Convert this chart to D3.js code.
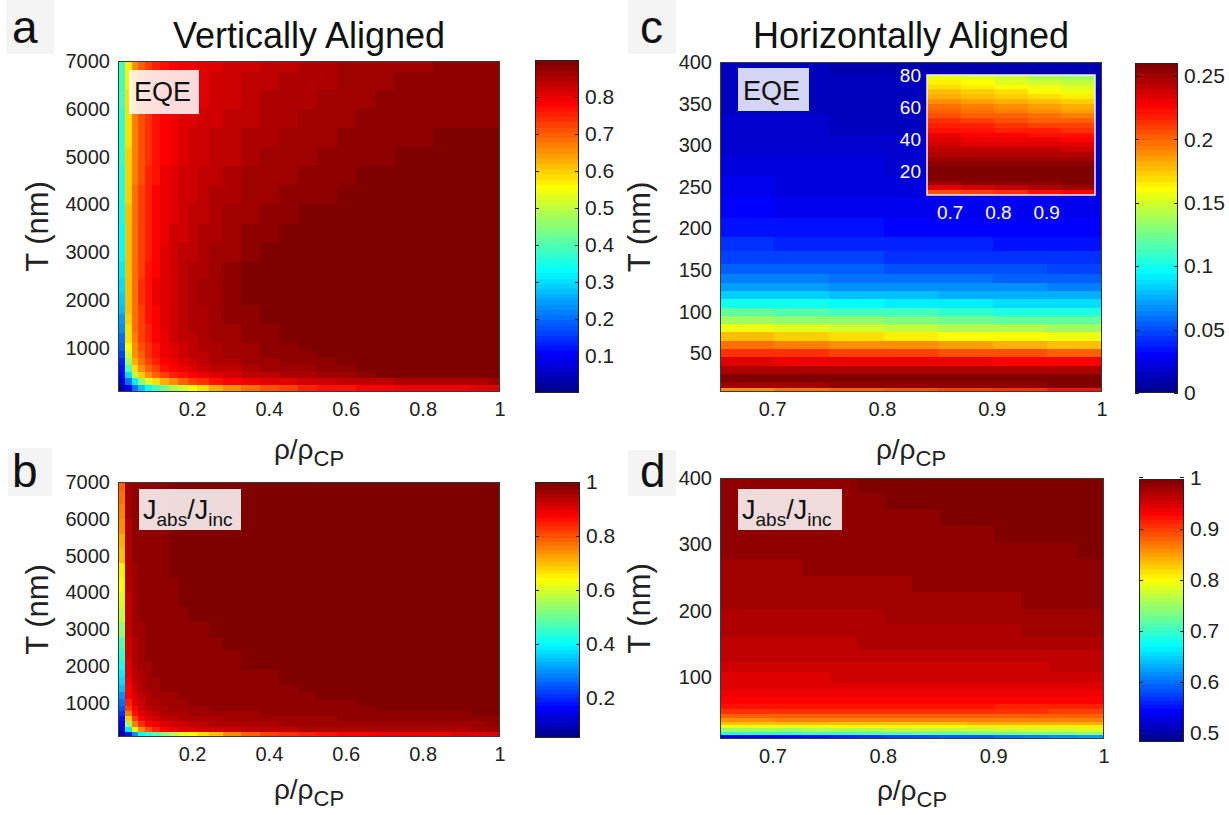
<!DOCTYPE html>
<html><head><meta charset="utf-8">
<script src="https://cdn.jsdelivr.net/npm/d3@7"></script>
<style>
body{margin:0;background:#fff}
svg{display:block}
text{font-family:"Liberation Sans",Arial,Helvetica,sans-serif;fill:#222}
</style>
</head><body>
<svg id="fig" width="1229" height="815"></svg>
<script>
// ---------------- DATA ----------------
// Panels a & b share the grid (rho/rhoCP columns, T rows in nm)
const abX = [0.015,0.0325,0.05,0.0675,0.085,0.105,0.125,0.15,0.175,0.2,0.225,0.26,0.3,0.35,0.4,0.45,0.5,0.55,0.6,0.65,0.7,0.75,0.8,0.85,0.9,0.95,0.99];
const abT = [150,290,430,570,710,850,1000,1200,1400,1600,1800,2000,2300,2600,3000,3400,3800,4200,4600,5000,5400,5800,6200,6600,6930];

// Panel a: EQE, vertically aligned (one row per T, bottom to top)
const eqeVert = [
[0.02,0.10,0.20,0.28,0.33,0.38,0.43,0.48,0.52,0.55,0.58,0.62,0.65,0.68,0.71,0.73,0.75,0.76,0.77,0.78,0.785,0.79,0.795,0.80,0.80,0.805,0.81],
[0.07,0.20,0.32,0.45,0.53,0.58,0.62,0.66,0.69,0.72,0.74,0.76,0.78,0.795,0.805,0.815,0.82,0.825,0.83,0.835,0.84,0.845,0.85,0.852,0.855,0.857,0.86],
[0.10,0.30,0.50,0.60,0.65,0.69,0.72,0.75,0.77,0.785,0.80,0.81,0.82,0.83,0.84,0.848,0.855,0.86,0.865,0.876,0.886,0.887,0.888,0.888,0.888,0.888,0.888],
[0.12,0.40,0.58,0.65,0.70,0.73,0.76,0.78,0.80,0.81,0.82,0.83,0.84,0.85,0.858,0.865,0.87,0.876,0.882,0.887,0.888,0.889,0.889,0.889,0.89,0.89,0.89],
[0.14,0.47,0.62,0.68,0.72,0.755,0.78,0.80,0.815,0.825,0.835,0.845,0.852,0.86,0.867,0.873,0.878,0.882,0.887,0.888,0.889,0.89,0.89,0.89,0.89,0.89,0.89],
[0.16,0.52,0.65,0.70,0.735,0.765,0.79,0.81,0.823,0.833,0.842,0.852,0.858,0.865,0.872,0.877,0.882,0.887,0.889,0.89,0.89,0.89,0.89,0.89,0.89,0.89,0.89],
[0.19,0.56,0.66,0.71,0.745,0.772,0.795,0.815,0.828,0.838,0.847,0.856,0.862,0.869,0.875,0.881,0.887,0.889,0.89,0.89,0.89,0.89,0.89,0.89,0.89,0.89,0.89],
[0.21,0.58,0.67,0.72,0.752,0.778,0.80,0.82,0.833,0.843,0.851,0.86,0.866,0.873,0.879,0.887,0.889,0.89,0.89,0.89,0.89,0.89,0.89,0.89,0.89,0.89,0.89],
[0.23,0.59,0.675,0.725,0.757,0.782,0.803,0.823,0.836,0.846,0.854,0.863,0.869,0.876,0.883,0.888,0.89,0.89,0.89,0.89,0.89,0.89,0.89,0.89,0.89,0.89,0.89],
[0.25,0.60,0.68,0.728,0.76,0.785,0.806,0.825,0.838,0.848,0.856,0.865,0.872,0.879,0.887,0.89,0.891,0.891,0.891,0.89,0.89,0.89,0.89,0.89,0.89,0.89,0.89],
[0.27,0.605,0.683,0.73,0.762,0.787,0.808,0.826,0.839,0.849,0.857,0.866,0.874,0.883,0.888,0.891,0.891,0.891,0.891,0.891,0.89,0.89,0.89,0.89,0.89,0.89,0.89],
[0.285,0.61,0.685,0.732,0.764,0.789,0.81,0.827,0.84,0.85,0.858,0.867,0.876,0.887,0.89,0.891,0.891,0.891,0.891,0.891,0.891,0.89,0.89,0.89,0.89,0.89,0.89],
[0.30,0.612,0.686,0.732,0.764,0.789,0.81,0.827,0.84,0.85,0.858,0.867,0.876,0.887,0.89,0.891,0.891,0.891,0.891,0.891,0.891,0.89,0.89,0.89,0.89,0.89,0.89],
[0.31,0.612,0.685,0.73,0.762,0.787,0.807,0.824,0.837,0.847,0.855,0.863,0.872,0.887,0.89,0.891,0.891,0.891,0.891,0.891,0.89,0.89,0.89,0.89,0.89,0.89,0.89],
[0.325,0.611,0.683,0.727,0.759,0.784,0.803,0.82,0.833,0.842,0.85,0.859,0.868,0.882,0.888,0.89,0.89,0.89,0.89,0.89,0.89,0.89,0.89,0.89,0.89,0.89,0.89],
[0.335,0.61,0.681,0.724,0.756,0.78,0.80,0.816,0.829,0.838,0.846,0.854,0.863,0.876,0.882,0.887,0.889,0.89,0.89,0.89,0.89,0.89,0.89,0.89,0.89,0.89,0.89],
[0.345,0.607,0.679,0.722,0.753,0.777,0.796,0.812,0.824,0.834,0.841,0.849,0.858,0.871,0.876,0.881,0.886,0.889,0.89,0.89,0.89,0.89,0.89,0.89,0.89,0.89,0.89],
[0.355,0.603,0.677,0.719,0.75,0.774,0.792,0.808,0.82,0.829,0.837,0.845,0.853,0.865,0.871,0.876,0.881,0.884,0.888,0.89,0.89,0.89,0.89,0.89,0.89,0.89,0.89],
[0.362,0.598,0.674,0.716,0.747,0.771,0.788,0.804,0.816,0.825,0.833,0.84,0.848,0.86,0.866,0.871,0.876,0.88,0.883,0.887,0.889,0.89,0.89,0.89,0.89,0.89,0.89],
[0.368,0.593,0.672,0.713,0.744,0.768,0.785,0.80,0.812,0.821,0.828,0.835,0.843,0.854,0.86,0.866,0.871,0.875,0.879,0.882,0.885,0.887,0.889,0.89,0.89,0.89,0.89],
[0.373,0.588,0.67,0.711,0.742,0.764,0.781,0.796,0.808,0.817,0.824,0.831,0.839,0.848,0.855,0.861,0.866,0.871,0.875,0.878,0.881,0.883,0.885,0.887,0.888,0.889,0.889],
[0.378,0.583,0.668,0.708,0.739,0.761,0.777,0.792,0.804,0.812,0.819,0.826,0.834,0.843,0.849,0.856,0.861,0.866,0.87,0.874,0.877,0.879,0.881,0.883,0.884,0.885,0.885],
[0.382,0.579,0.665,0.705,0.736,0.758,0.774,0.788,0.80,0.808,0.815,0.822,0.829,0.837,0.844,0.851,0.857,0.861,0.866,0.87,0.873,0.876,0.878,0.88,0.881,0.882,0.883],
[0.386,0.575,0.663,0.703,0.733,0.755,0.77,0.784,0.796,0.804,0.811,0.817,0.824,0.832,0.839,0.845,0.852,0.857,0.862,0.866,0.869,0.872,0.874,0.876,0.878,0.879,0.88],
[0.39,0.57,0.66,0.70,0.73,0.752,0.767,0.78,0.792,0.80,0.807,0.813,0.82,0.827,0.834,0.841,0.848,0.853,0.858,0.862,0.866,0.869,0.871,0.873,0.875,0.877,0.878]
];

// Panel b: Jabs/Jinc, vertically aligned (one column per rho/rhoCP, bottom to top)
const jVert = [
[0.07,0.11,0.15,0.18,0.2,0.23,0.26,0.3,0.34,0.37,0.39,0.41,0.45,0.48,0.53,0.57,0.6,0.63,0.655,0.69,0.71,0.74,0.76,0.77,0.78],
[0.17,0.38,0.55,0.68,0.76,0.81,0.84,0.87,0.88,0.89,0.9,0.905,0.915,0.925,0.93,0.935,0.94,0.945,0.948,0.95,0.952,0.954,0.956,0.957,0.958],
[0.3,0.64,0.76,0.82,0.86,0.88,0.9,0.915,0.925,0.933,0.94,0.945,0.95,0.955,0.96,0.963,0.966,0.968,0.97,0.972,0.974,0.975,0.976,0.977,0.978],
[0.4,0.74,0.83,0.87,0.9,0.915,0.925,0.935,0.943,0.95,0.955,0.958,0.962,0.966,0.97,0.973,0.975,0.977,0.978,0.979,0.98,0.981,0.981,0.982,0.982],
[0.44,0.8,0.87,0.9,0.92,0.933,0.942,0.95,0.956,0.961,0.965,0.968,0.972,0.975,0.978,0.98,0.981,0.982,0.983,0.983,0.984,0.984,0.984,0.984,0.984],
[0.48,0.84,0.89,0.915,0.933,0.945,0.953,0.96,0.965,0.969,0.972,0.975,0.978,0.98,0.982,0.983,0.984,0.984,0.984,0.984,0.984,0.984,0.984,0.984,0.984],
[0.52,0.87,0.905,0.926,0.942,0.952,0.96,0.966,0.971,0.974,0.977,0.979,0.981,0.983,0.984,0.984,0.984,0.984,0.984,0.984,0.984,0.984,0.984,0.984,0.984],
[0.56,0.89,0.915,0.935,0.948,0.957,0.964,0.97,0.974,0.977,0.979,0.981,0.983,0.984,0.984,0.984,0.984,0.984,0.986,0.99,0.99,0.99,0.99,0.99,0.99],
[0.6,0.9,0.925,0.942,0.953,0.961,0.968,0.973,0.977,0.98,0.982,0.983,0.984,0.984,0.984,0.984,0.986,0.99,0.99,0.99,0.99,0.99,0.99,0.99,0.99],
[0.63,0.91,0.932,0.947,0.957,0.965,0.971,0.976,0.979,0.982,0.983,0.984,0.984,0.984,0.984,0.986,0.99,0.99,0.99,0.99,0.99,0.99,0.99,0.99,0.99],
[0.66,0.915,0.937,0.951,0.961,0.968,0.973,0.978,0.981,0.983,0.984,0.984,0.984,0.984,0.984,0.99,0.99,0.99,0.99,0.99,0.99,0.99,0.99,0.99,0.99],
[0.7,0.92,0.942,0.955,0.964,0.971,0.976,0.98,0.982,0.984,0.984,0.984,0.984,0.984,0.99,0.99,0.99,0.99,0.99,0.99,0.99,0.99,0.99,0.99,0.99],
[0.74,0.925,0.946,0.958,0.967,0.973,0.978,0.981,0.983,0.984,0.984,0.984,0.984,0.99,0.99,0.99,0.99,0.99,0.99,0.99,0.99,0.99,0.99,0.99,0.99],
[0.78,0.93,0.95,0.961,0.969,0.975,0.979,0.982,0.984,0.984,0.984,0.986,0.99,0.99,0.99,0.99,0.99,0.99,0.99,0.99,0.99,0.99,0.99,0.99,0.99],
[0.81,0.935,0.953,0.964,0.971,0.977,0.98,0.983,0.984,0.984,0.984,0.99,0.99,0.99,0.99,0.99,0.99,0.99,0.99,0.99,0.99,0.99,0.99,0.99,0.99],
[0.83,0.94,0.956,0.966,0.973,0.978,0.981,0.984,0.984,0.986,0.99,0.99,0.99,0.99,0.99,0.99,0.99,0.99,0.99,0.99,0.99,0.99,0.99,0.99,0.99],
[0.85,0.943,0.958,0.968,0.975,0.979,0.982,0.984,0.986,0.99,0.99,0.99,0.99,0.99,0.99,0.99,0.99,0.99,0.99,0.99,0.99,0.99,0.99,0.99,0.99],
[0.865,0.945,0.96,0.97,0.976,0.98,0.983,0.986,0.99,0.99,0.99,0.99,0.99,0.99,0.99,0.99,0.99,0.99,0.99,0.99,0.99,0.99,0.99,0.99,0.99],
[0.875,0.947,0.962,0.971,0.977,0.981,0.984,0.99,0.99,0.99,0.99,0.99,0.99,0.99,0.99,0.99,0.99,0.99,0.99,0.99,0.99,0.99,0.99,0.99,0.99],
[0.88,0.949,0.964,0.972,0.978,0.982,0.986,0.99,0.99,0.99,0.99,0.99,0.99,0.99,0.99,0.99,0.99,0.99,0.99,0.99,0.99,0.99,0.99,0.99,0.99],
[0.885,0.95,0.965,0.973,0.979,0.986,0.99,0.99,0.99,0.99,0.99,0.99,0.99,0.99,0.99,0.99,0.99,0.99,0.99,0.99,0.99,0.99,0.99,0.99,0.99],
[0.89,0.952,0.966,0.974,0.98,0.986,0.99,0.99,0.99,0.99,0.99,0.99,0.99,0.99,0.99,0.99,0.99,0.99,0.99,0.99,0.99,0.99,0.99,0.99,0.99],
[0.893,0.953,0.967,0.975,0.981,0.99,0.99,0.99,0.99,0.99,0.99,0.99,0.99,0.99,0.99,0.99,0.99,0.99,0.99,0.99,0.99,0.99,0.99,0.99,0.99],
[0.896,0.954,0.968,0.976,0.983,0.99,0.99,0.99,0.99,0.99,0.99,0.99,0.99,0.99,0.99,0.99,0.99,0.99,0.99,0.99,0.99,0.99,0.99,0.99,0.99],
[0.898,0.955,0.969,0.977,0.984,0.99,0.99,0.99,0.99,0.99,0.99,0.99,0.99,0.99,0.99,0.99,0.99,0.99,0.99,0.99,0.99,0.99,0.99,0.99,0.99],
[0.9,0.956,0.97,0.978,0.986,0.99,0.99,0.99,0.99,0.99,0.99,0.99,0.99,0.99,0.99,0.99,0.99,0.99,0.99,0.99,0.99,0.99,0.99,0.99,0.99],
[0.902,0.957,0.971,0.978,0.987,0.99,0.99,0.99,0.99,0.99,0.99,0.99,0.99,0.99,0.99,0.99,0.99,0.99,0.99,0.99,0.99,0.99,0.99,0.99,0.99]
];

// Panel c: EQE, horizontally aligned (one row per T)
const cX = [0.677,0.726,0.776,0.826,0.876,0.925,0.975];
const cT = [5,12,20,30,40,50,60,70,80,90,100,110,120,130,140,150,165,180,200,225,250,275,300,325,350,375,395];
const eqeHoriz = [
[0.19,0.195,0.2,0.205,0.21,0.215,0.22],
[0.25,0.251,0.252,0.253,0.254,0.255,0.256],
[0.257,0.258,0.258,0.259,0.259,0.26,0.26],
[0.247,0.247,0.247,0.247,0.247,0.247,0.247],
[0.232,0.231,0.23,0.229,0.228,0.227,0.226],
[0.215,0.212,0.21,0.208,0.206,0.204,0.202],
[0.196,0.193,0.19,0.187,0.184,0.181,0.178],
[0.175,0.172,0.168,0.165,0.162,0.159,0.156],
[0.155,0.151,0.148,0.145,0.142,0.139,0.136],
[0.136,0.133,0.13,0.127,0.124,0.121,0.118],
[0.118,0.115,0.112,0.11,0.107,0.105,0.102],
[0.1,0.098,0.095,0.093,0.091,0.089,0.087],
[0.085,0.083,0.081,0.079,0.077,0.075,0.074],
[0.073,0.071,0.069,0.068,0.066,0.065,0.063],
[0.063,0.061,0.06,0.059,0.057,0.056,0.055],
[0.055,0.054,0.053,0.052,0.05,0.049,0.048],
[0.047,0.046,0.045,0.044,0.043,0.042,0.041],
[0.041,0.04,0.039,0.038,0.037,0.036,0.035],
[0.034,0.033,0.033,0.032,0.031,0.03,0.03],
[0.029,0.028,0.027,0.027,0.026,0.026,0.025],
[0.025,0.024,0.024,0.023,0.023,0.022,0.022],
[0.022,0.021,0.021,0.02,0.02,0.019,0.019],
[0.019,0.019,0.018,0.018,0.017,0.017,0.017],
[0.017,0.017,0.016,0.016,0.016,0.015,0.015],
[0.016,0.015,0.015,0.014,0.014,0.014,0.013],
[0.014,0.014,0.013,0.013,0.013,0.012,0.012],
[0.013,0.013,0.012,0.012,0.012,0.011,0.011]
];

// Inset of panel c: EQE for thin films (one column per rho/rhoCP)
const insX = [0.687,0.756,0.826,0.896,0.965];
const insT = [6.5,9.5,12.5,15.5,18.5,21.5,24.5,27.5,30.5,33.5,36.5,39.5,42.5,45.5,48.5,51.5,54.5,57.5,60.5,63.5,66.5,69.5,72.5,75.5,78.5];
const eqeInset = [
[0.205,0.235,0.25,0.256,0.258,0.258,0.254,0.25,0.246,0.241,0.236,0.232,0.228,0.223,0.218,0.212,0.206,0.201,0.195,0.189,0.182,0.176,0.17,0.164,0.158],
[0.21,0.239,0.252,0.257,0.258,0.258,0.254,0.25,0.246,0.241,0.235,0.231,0.226,0.221,0.216,0.209,0.203,0.197,0.191,0.185,0.178,0.172,0.165,0.159,0.153],
[0.215,0.243,0.254,0.258,0.259,0.259,0.255,0.25,0.246,0.24,0.235,0.23,0.225,0.219,0.213,0.206,0.2,0.194,0.187,0.181,0.174,0.167,0.161,0.154,0.148],
[0.22,0.246,0.255,0.259,0.26,0.259,0.255,0.25,0.245,0.24,0.234,0.228,0.223,0.217,0.21,0.203,0.196,0.19,0.183,0.176,0.169,0.162,0.156,0.149,0.142],
[0.225,0.25,0.257,0.26,0.26,0.259,0.255,0.25,0.245,0.239,0.233,0.227,0.221,0.215,0.208,0.2,0.193,0.186,0.179,0.172,0.165,0.158,0.151,0.144,0.137]
];

// Panel d: Jabs/Jinc, horizontally aligned (one row per T)
const dX = [0.664,0.689,0.714,0.739,0.764,0.789,0.814,0.838,0.863,0.888,0.913,0.938,0.963,0.988];
const dT = [9,15,20,25,30,35,40,47,55,65,75,85,100,115,130,150,170,190,215,240,265,290,315,340,365,390];
const jHoriz = [
[0.525,0.533,0.540,0.548,0.556,0.563,0.571,0.579,0.587,0.594,0.602,0.610,0.617,0.625],
[0.688,0.692,0.696,0.700,0.705,0.709,0.713,0.717,0.721,0.725,0.730,0.734,0.738,0.742],
[0.749,0.751,0.754,0.756,0.759,0.761,0.764,0.766,0.769,0.771,0.774,0.776,0.779,0.781],
[0.789,0.791,0.792,0.794,0.796,0.797,0.799,0.801,0.803,0.804,0.806,0.808,0.809,0.811],
[0.829,0.830,0.831,0.832,0.833,0.834,0.835,0.835,0.836,0.837,0.838,0.839,0.840,0.841],
[0.860,0.860,0.861,0.861,0.862,0.862,0.862,0.863,0.863,0.863,0.864,0.864,0.865,0.865],
[0.881,0.881,0.881,0.880,0.880,0.880,0.880,0.880,0.880,0.880,0.879,0.879,0.879,0.879],
[0.905,0.905,0.904,0.904,0.903,0.903,0.903,0.902,0.902,0.902,0.901,0.901,0.900,0.900],
[0.920,0.920,0.919,0.919,0.918,0.918,0.918,0.917,0.917,0.917,0.916,0.916,0.915,0.915],
[0.930,0.930,0.930,0.929,0.929,0.929,0.929,0.928,0.928,0.928,0.928,0.927,0.927,0.927],
[0.937,0.937,0.937,0.937,0.936,0.936,0.936,0.936,0.936,0.936,0.935,0.935,0.935,0.935],
[0.942,0.942,0.942,0.942,0.942,0.942,0.942,0.942,0.942,0.942,0.942,0.942,0.942,0.942],
[0.948,0.948,0.948,0.948,0.949,0.949,0.949,0.949,0.949,0.949,0.950,0.950,0.950,0.950],
[0.953,0.953,0.954,0.954,0.954,0.955,0.955,0.955,0.955,0.956,0.956,0.956,0.957,0.957],
[0.958,0.958,0.959,0.959,0.960,0.960,0.960,0.961,0.961,0.961,0.962,0.962,0.963,0.963],
[0.962,0.963,0.963,0.964,0.964,0.965,0.965,0.966,0.966,0.967,0.967,0.968,0.968,0.969],
[0.966,0.967,0.967,0.968,0.968,0.969,0.970,0.970,0.971,0.971,0.972,0.973,0.973,0.974],
[0.969,0.970,0.970,0.971,0.972,0.972,0.973,0.974,0.975,0.975,0.976,0.977,0.977,0.978],
[0.973,0.974,0.974,0.975,0.976,0.976,0.977,0.978,0.979,0.979,0.980,0.981,0.981,0.982],
[0.976,0.977,0.977,0.978,0.979,0.979,0.980,0.981,0.982,0.982,0.983,0.984,0.984,0.985],
[0.979,0.980,0.980,0.981,0.981,0.982,0.983,0.983,0.984,0.985,0.985,0.986,0.986,0.987],
[0.981,0.982,0.982,0.983,0.983,0.984,0.985,0.985,0.986,0.987,0.987,0.988,0.988,0.989],
[0.982,0.983,0.983,0.984,0.985,0.985,0.986,0.987,0.988,0.988,0.989,0.990,0.990,0.991],
[0.983,0.984,0.985,0.985,0.986,0.987,0.988,0.988,0.989,0.990,0.991,0.991,0.992,0.993],
[0.984,0.985,0.986,0.986,0.987,0.988,0.989,0.989,0.990,0.991,0.992,0.992,0.993,0.994],
[0.985,0.986,0.987,0.987,0.988,0.989,0.990,0.990,0.991,0.992,0.993,0.993,0.994,0.995]
];

// Tick labels
const abXTicks = [0.2,0.4,0.6,0.8,1];
const abYTicks = [1000,2000,3000,4000,5000,6000,7000];
const cdXTicks = [0.7,0.8,0.9,1];
const cYTicks = [50,100,150,200,250,300,350,400];
const dYTicks = [100,200,300,400];
const insXTicks = [0.7,0.8,0.9];
const insYTicks = [20,40,60,80];
const cbTicksA = [0.1,0.2,0.3,0.4,0.5,0.6,0.7,0.8];
const cbTicksB = [0.2,0.4,0.6,0.8,1];
const cbTicksC = [0,0.05,0.1,0.15,0.2,0.25];
const cbTicksD = [0.5,0.6,0.7,0.8,0.9,1];

// ---------------- DRAWING ----------------
const svg = d3.select('#fig');

// MATLAB jet(64)
function jet(i){ // 1..64
  const r = i<=24?0 : i<=40?(i-24)/16 : i<=56?1 : (72-i)/16;
  const g = i<=8?0 : i<=24?(i-8)/16 : i<=40?1 : i<=55?(56-i)/16 : 0;
  const b = i<=8?(i+8)/16 : i<=24?1 : i<=39?(40-i)/16 : 0;
  return d3.rgb(Math.round(r*255),Math.round(g*255),Math.round(b*255)).formatHex();
}
function cmap(lo,hi){
  return v => { let k = Math.floor((v-lo)/(hi-lo)*64)+1; k = Math.max(1,Math.min(64,k)); return jet(k); };
}
function edges(c, d0, d1){
  const e=[d0];
  for(let k=0;k<c.length-1;k++) e.push((c[k]+c[k+1])/2);
  e.push(d1); return e;
}
function heat(g, xs, ys, z, rowMajor, x, y, color){
  const xe = edges(xs, x.domain()[0], x.domain()[1]);
  const ye = edges(ys, y.domain()[0], y.domain()[1]);
  const cells=[];
  for(let j=0;j<ys.length;j++) for(let i=0;i<xs.length;i++)
    cells.push({i,j,v: rowMajor? z[j][i] : z[i][j]});
  g.selectAll(null).data(cells).join('rect')
    .attr('x', d=>Math.round(x(xe[d.i])))
    .attr('width', d=>Math.round(x(xe[d.i+1]))-Math.round(x(xe[d.i])))
    .attr('y', d=>Math.round(y(ye[d.j+1])))
    .attr('height', d=>Math.round(y(ye[d.j]))-Math.round(y(ye[d.j+1])))
    .attr('fill', d=>color(d.v))
    .attr('shape-rendering','crispEdges');
}
function fmt(v){ return String(v); }

function panel(o){
  const x = d3.scaleLinear().domain(o.xd).range([o.l,o.r]);
  const y = d3.scaleLinear().domain(o.yd).range([o.b,o.t]);
  const g = svg.append('g');
  heat(g, o.xs, o.ys, o.z, o.rowMajor, x, y, o.color);
  g.append('rect').attr('x',o.l+0.5).attr('y',o.t+0.5).attr('width',o.r-o.l-1).attr('height',o.b-o.t-1)
    .attr('fill','none').attr('stroke','#3a3a3a').attr('stroke-width',1);
  g.selectAll(null).data(o.yt).join('text')
    .attr('x',o.l-8).attr('y',d=>y(d)).attr('dy','0.35em').attr('text-anchor','end')
    .style('font-size','20px').text(fmt);
  g.selectAll(null).data(o.xt).join('text')
    .attr('x',d=>x(d)).attr('y',o.b+24).attr('text-anchor','middle')
    .style('font-size','20px').text(fmt);
  g.append('text').attr('transform',`translate(${o.l-70},${(o.t+o.b)/2}) rotate(-90)`)
    .attr('text-anchor','middle').style('font-size','31px').text('T (nm)');
  const xl = g.append('text').attr('x',(o.l+o.r)/2).attr('y',o.b+o.lab).attr('text-anchor','middle').style('font-size','28px');
  xl.append('tspan').text('ρ/ρ');
  xl.append('tspan').attr('dy',7).style('font-size','22px').text('CP');
  return {x,y,g};
}

function colorbar(o){
  const s = d3.scaleLinear().domain([o.lo,o.hi]).range([o.b,o.t]);
  const g = svg.append('g');
  const lv = d3.range(64);
  g.selectAll(null).data(lv).join('rect')
    .attr('x',o.l).attr('width',o.r-o.l)
    .attr('y',k=>Math.round(s(o.lo+(k+1)/64*(o.hi-o.lo))))
    .attr('height',k=>Math.round(s(o.lo+k/64*(o.hi-o.lo)))-Math.round(s(o.lo+(k+1)/64*(o.hi-o.lo))))
    .attr('fill',k=>jet(k+1)).attr('shape-rendering','crispEdges');
  g.append('rect').attr('x',o.l+0.5).attr('y',o.t+0.5).attr('width',o.r-o.l-1).attr('height',o.b-o.t-1)
    .attr('fill','none').attr('stroke','#222').attr('stroke-width',1);
  g.selectAll(null).data(o.ticks).join('path')
    .attr('d',d=>{const yy=Math.round(s(d))+0.5; return `M${o.l},${yy}h4M${o.r},${yy}h-4`;})
    .attr('stroke','#222').attr('stroke-width',1);
  g.selectAll(null).data(o.ticks).join('text')
    .attr('x',o.r+6).attr('y',d=>s(d)).attr('dy','0.35em')
    .style('font-size','21px').text(fmt);
}

function labelBox(x,y,w,h,op){
  svg.append('rect').attr('x',x).attr('y',y).attr('width',w).attr('height',h).attr('fill','#fff').attr('fill-opacity',op);
}
function letter(ch,x,y,bx,by,bw,bh){
  svg.append('rect').attr('x',bx).attr('y',by).attr('width',bw).attr('height',bh).attr('fill','#f4f4f4');
  svg.append('text').attr('x',x).attr('y',y).style('font-size','46px').style('fill','#111').text(ch);
}
function jLabel(x,y){
  const t = svg.append('text').attr('x',x).attr('y',y).style('font-size','27px').style('fill','#111');
  t.append('tspan').text('J');
  t.append('tspan').attr('dy',7).style('font-size','19px').text('abs');
  t.append('tspan').attr('dy',-7).text('/J');
  t.append('tspan').attr('dy',7).style('font-size','19px').text('inc');
}

// panel letters & titles
letter('a',12,43,6,0,48,54);
letter('c',640,43,628,0,48,54);
letter('b',12,487,8,448,44,48);
letter('d',640,487,628,450,48,46);
svg.append('text').attr('x',309).attr('y',48).attr('text-anchor','middle').style('font-size','36px').style('fill','#111').text('Vertically Aligned');
svg.append('text').attr('x',911).attr('y',48).attr('text-anchor','middle').style('font-size','36px').style('fill','#111').text('Horizontally Aligned');

// Panel a
panel({l:118,r:500,t:61,b:392,xd:[0.006,1],yd:[75,7000],xs:abX,ys:abT,z:eqeVert,rowMajor:true,
  color:cmap(0,0.9),xt:abXTicks,yt:abYTicks,lab:67});
colorbar({l:535,r:579,t:60,b:393,lo:0,hi:0.9,ticks:cbTicksA});
labelBox(129,70,70,44,0.86);
svg.append('text').attr('x',134).attr('y',101).style('font-size','27px').style('fill','#111').text('EQE');

// Panel b
panel({l:118,r:500,t:482,b:737,xd:[0.006,1],yd:[75,7000],xs:abX,ys:abT,z:jVert,rowMajor:false,
  color:cmap(0.05,1.0),xt:abXTicks,yt:abYTicks,lab:62});
colorbar({l:535,r:580,t:482,b:738,lo:0.05,hi:1.0,ticks:cbTicksB});
labelBox(139,489,102,41,0.86);
jLabel(143,519);

// Panel c
panel({l:720,r:1102,t:62,b:392,xd:[0.652,1],yd:[3.5,400],xs:cX,ys:cT,z:eqeHoriz,rowMajor:true,
  color:cmap(0,0.26),xt:cdXTicks,yt:cYTicks,lab:67});
colorbar({l:1135,r:1178,t:63,b:393,lo:0,hi:0.26,ticks:cbTicksC});
labelBox(738,68,71,43,0.83);
svg.append('text').attr('x',743).attr('y',100).style('font-size','27px').style('fill','#111').text('EQE');

// Inset in panel c
(function(){
  const l=927,r=1095,t=75,b=195;
  const x = d3.scaleLinear().domain([0.652,1.0]).range([l,r]);
  const y = d3.scaleLinear().domain([5,80]).range([b,t]);
  const g = svg.append('g');
  heat(g, insX, insT, eqeInset, false, x, y, cmap(0,0.26));
  g.append('rect').attr('x',l).attr('y',t).attr('width',r-l).attr('height',b-t)
    .attr('fill','none').attr('stroke','#f0f0f0').attr('stroke-width',1.5);
  g.selectAll(null).data(insYTicks).join('text')
    .attr('x',l-6).attr('y',d=>y(d)).attr('dy','0.35em').attr('text-anchor','end')
    .style('font-size','19px').style('fill','#fff').text(fmt);
  g.selectAll(null).data(insXTicks).join('text')
    .attr('x',d=>x(d)).attr('y',b+24).attr('text-anchor','middle')
    .style('font-size','19px').style('fill','#fff').text(fmt);
})();

// Panel d
panel({l:720,r:1104,t:478,b:739,xd:[0.652,1],yd:[6.5,400],xs:dX,ys:dT,z:jHoriz,rowMajor:true,
  color:cmap(0.482,0.997),xt:cdXTicks,yt:dYTicks,lab:61});
colorbar({l:1139,r:1184,t:479,b:742,lo:0.482,hi:0.997,ticks:cbTicksD});
labelBox(738,489,104,41,0.86);
jLabel(742,519);
</script>
</body></html>
